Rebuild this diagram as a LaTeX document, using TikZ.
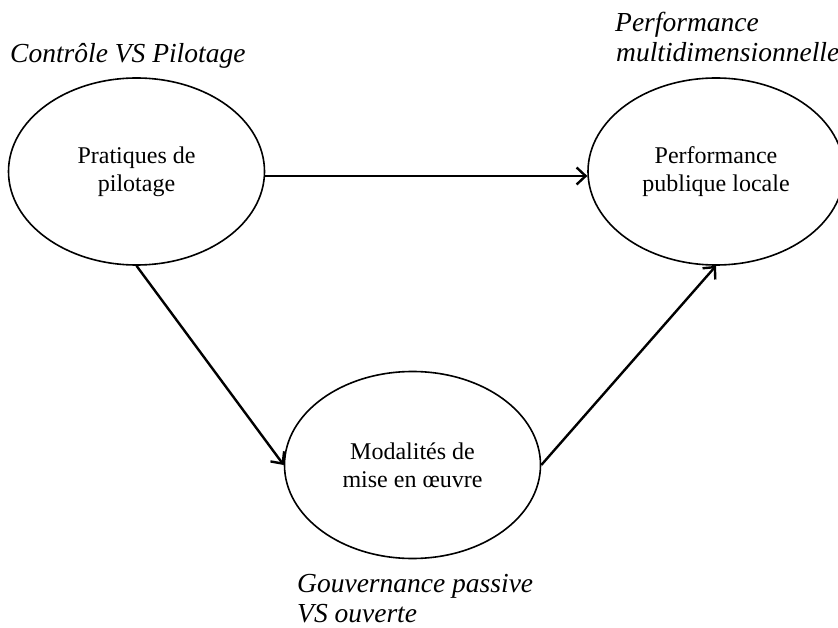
\documentclass[tikz,border=0pt]{standalone}
\usepackage{fontspec}
\setmainfont{Liberation Serif}
\usetikzlibrary{shapes.geometric,arrows.meta}
\begin{document}
\begin{tikzpicture}[x=1pt,y=-1pt,
  oval/.style={draw,ellipse,line width=1.6pt,inner sep=0pt,minimum width=256pt,minimum height=187pt,align=center,font=\fontsize{24}{28}\selectfont},
  lbl/.style={anchor=base west,inner sep=0pt,font=\fontsize{27.5}{30}\selectfont\itshape},
  conn/.style={line width=2.4pt,-{Straight Barb[length=9pt,width=17pt,line width=2.4pt]}}]
\useasboundingbox (0,0) rectangle (838,628);
\node[oval] (p) at (136.5,171.5) {Pratiques de\\pilotage};
\node[oval] (perf) at (716,171.5) {Performance\\publique locale};
\node[oval] (mod) at (412.5,465) {Modalités de\\mise en œuvre};
\node[lbl] (l1) at (10,63) {Contrôle VS Pilotage};
\node[lbl] (l2a) at (615,32) {Performance};
\node[lbl] (l2b) at (616,62) {multidimensionnelle};
\node[lbl] (l3a) at (297,592) {Gouvernance passive};
\node[lbl] (l3b) at (297,622) {VS ouverte};
\draw[conn] (p.-2) -- (perf.182);
\draw[conn] (p.south) -- (mod.west);
\draw[conn] (mod.east) -- (perf.south);
\end{tikzpicture}
\end{document}
